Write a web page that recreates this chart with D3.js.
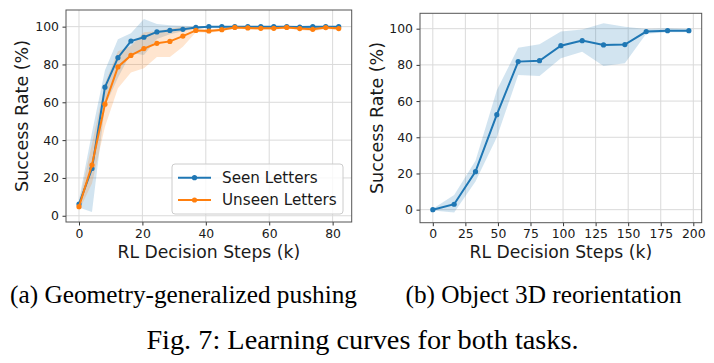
<!DOCTYPE html>
<html><head><meta charset="utf-8">
<script src="https://cdn.jsdelivr.net/npm/d3@7"></script>
<style>body{margin:0;background:#fff}svg{display:block}</style>
</head><body>
<script>
// ---- data ----
const stepsA = [0,4.096,8.192,12.288,16.384,20.48,24.576,28.672,32.768,36.864,40.96,45.056,49.152,53.248,57.344,61.44,65.536,69.632,73.728,77.824,81.92];
const seenMean  = [6.2,25,68,83.6,92.4,94.4,97.2,98,98.6,99.6,100,100,100,100,100,100,100,99.8,100,100,100];
const seenLow   = [4.4,2,58,73,86,85,93.5,96,97.5,99,99.6,99.6,99.6,99.6,99.6,99.6,99.6,99.3,99.6,99.6,99.6];
const seenHigh  = [8.3,44,77,93.3,96.5,104,101.4,100.8,100.5,100.2,100.3,100.3,100.3,100.3,100.3,100.3,100.3,100.3,100.3,100.3,100.3];
const unseenMean = [4.8,26.8,59,78.7,84.8,88.4,91.2,92.2,95,98,97.7,98.4,99.6,99.3,99.1,99.1,99.6,99,98.6,99.5,99];
const unseenLow  = [2.8,17,47,67.4,75.7,78,84,84,89.4,97,96.8,97.5,99,98.5,98.3,98.3,99,98.2,97.6,98.8,98.2];
const unseenHigh = [6.8,38,70,87,89.7,97,97.5,99,100,99.2,98.6,99.3,100.2,100,99.9,99.9,100.2,99.8,99.6,100.2,99.8];

const stepsB = [0,16.384,32.768,49.152,65.536,81.92,98.304,114.688,131.072,147.456,163.84,180.224,196.608];
const reoMean = [0,3,21,52.5,81.8,82.3,90.6,93.4,91,91.2,98.4,98.9,98.9];
const reoLow  = [-0.5,-1.5,15.5,40,74.4,73.9,83.6,87.3,79.4,80.9,97.2,98,98];
const reoHigh = [0.5,8.1,27,66,89.5,91.4,98.4,99.5,103,101.1,99.8,100.2,99.8];

const yTicks = [0,20,40,60,80,100];
const xTicksA = [0,20,40,60,80];
const xTicksB = [0,25,50,75,100,125,150,175,200];
const legendLabels = ["Seen Letters","Unseen Letters"];
const captionA = "(a) Geometry-generalized pushing";
const captionB = "(b) Object 3D reorientation";
const figCaption = "Fig. 7: Learning curves for both tasks.";
const xLabel = "RL Decision Steps (k)";
const yLabel = "Success Rate (%)";

const BLUE = "#1f77b4", ORANGE = "#ff7f0e";
const svg = d3.select("body").append("svg").attr("width",714).attr("height",363)
  .style("font-family","'DejaVu Sans', sans-serif");
svg.append("rect").attr("width",714).attr("height",363).attr("fill","#fff");

function panel(cfg){
  const x = d3.scaleLinear().domain(cfg.xd).range([cfg.l, cfg.r]);
  const y = d3.scaleLinear().domain(cfg.yd).range([cfg.b, cfg.t]);
  const g = svg.append("g");
  // grid
  g.selectAll(".gx").data(cfg.xt).join("line")
    .attr("x1",d=>x(d)).attr("x2",d=>x(d)).attr("y1",cfg.t).attr("y2",cfg.b)
    .attr("stroke","#dadada").attr("stroke-width",1);
  g.selectAll(".gy").data(yTicks).join("line")
    .attr("y1",d=>y(d)).attr("y2",d=>y(d)).attr("x1",cfg.l).attr("x2",cfg.r)
    .attr("stroke","#dadada").attr("stroke-width",1);
  const clip = "clip"+cfg.id;
  svg.append("clipPath").attr("id",clip).append("rect")
    .attr("x",cfg.l).attr("y",cfg.t).attr("width",cfg.r-cfg.l).attr("height",cfg.b-cfg.t);
  const gc = g.append("g").attr("clip-path",`url(#${clip})`);
  cfg.series.forEach(s=>{
    const area = d3.area().x((d,i)=>x(cfg.xs[i])).y0((d,i)=>y(s.lo[i])).y1((d,i)=>y(s.hi[i]));
    gc.append("path").datum(s.mean).attr("d",area).attr("fill",s.color).attr("fill-opacity",0.2);
  });
  cfg.series.forEach(s=>{
    const line = d3.line().x((d,i)=>x(cfg.xs[i])).y(d=>y(d));
    gc.append("path").datum(s.mean).attr("d",line).attr("fill","none")
      .attr("stroke",s.color).attr("stroke-width",2);
    gc.selectAll(null).data(s.mean).join("circle")
      .attr("cx",(d,i)=>x(cfg.xs[i])).attr("cy",d=>y(d)).attr("r",2.6).attr("fill",s.color);
  });
  // axes
  const ax = g.append("g").attr("transform",`translate(0,${cfg.b})`)
    .call(d3.axisBottom(x).tickValues(cfg.xt).tickSize(3.5).tickPadding(3.2));
  const ay = g.append("g").attr("transform",`translate(${cfg.l},0)`)
    .call(d3.axisLeft(y).tickValues(yTicks).tickSize(3.5).tickPadding(3.5));
  [ax,ay].forEach(a=>{
    a.select(".domain").remove();
    a.selectAll("line").attr("stroke","#333");
    a.selectAll("text").attr("font-size",12.4).attr("fill","#1a1a1a")
      .attr("font-family","'DejaVu Sans', sans-serif");
  });
  g.append("rect").attr("x",cfg.l).attr("y",cfg.t).attr("width",cfg.r-cfg.l).attr("height",cfg.b-cfg.t)
    .attr("fill","none").attr("stroke","#555").attr("stroke-width",1);
  g.append("text").attr("x",(cfg.l+cfg.r)/2).attr("y",257.5).attr("text-anchor","middle")
    .attr("font-size",17.2).attr("fill","#1a1a1a").text(xLabel);
  g.append("text").attr("transform",`translate(${cfg.yl},${(cfg.t+cfg.b)/2}) rotate(-90)`)
    .attr("text-anchor","middle").attr("font-size",17.5).attr("fill","#1a1a1a").text(yLabel);
  return {x,y,g};
}

panel({id:"a", l:66, r:351.7, t:10, b:222, xd:[-4.096,86.016], yd:[-3.3,108.8],
  xt:xTicksA, xs:stepsA, yl:28,
  series:[{mean:seenMean,lo:seenLow,hi:seenHigh,color:BLUE},
          {mean:unseenMean,lo:unseenLow,hi:unseenHigh,color:ORANGE}]});
panel({id:"b", l:420, r:701.7, t:13.3, b:222.7, xd:[-9.83,206.44], yd:[-7.2,108.5],
  xt:xTicksB, xs:stepsB, yl:383,
  series:[{mean:reoMean,lo:reoLow,hi:reoHigh,color:BLUE}]});

// legend
const lg = svg.append("g");
lg.append("rect").attr("x",172).attr("y",164).attr("width",171).attr("height",50).attr("rx",3)
  .attr("fill","#fff").attr("fill-opacity",0.8).attr("stroke","#cccccc");
[BLUE,ORANGE].forEach((c,i)=>{
  const yy = 177.7 + i*22.3;
  lg.append("line").attr("x1",178).attr("x2",211).attr("y1",yy).attr("y2",yy).attr("stroke",c).attr("stroke-width",2);
  lg.append("circle").attr("cx",194.5).attr("cy",yy).attr("r",2.6).attr("fill",c);
  lg.append("text").attr("x",222).attr("y",yy).attr("dy","0.35em").attr("font-size",15.2)
    .attr("fill","#1a1a1a").text(legendLabels[i]);
});

// captions
const serif = "'Liberation Serif','Times New Roman',serif";
svg.append("text").attr("x",183.5).attr("y",303).attr("text-anchor","middle").attr("font-family",serif)
  .attr("font-size",25.3).attr("fill","#000").text(captionA);
svg.append("text").attr("x",543.5).attr("y",303).attr("text-anchor","middle").attr("font-family",serif)
  .attr("font-size",25.3).attr("fill","#000").text(captionB);
svg.append("text").attr("x",362.5).attr("y",349).attr("text-anchor","middle").attr("font-family",serif)
  .attr("font-size",28.3).attr("fill","#000").text(figCaption);
</script>
</body></html>
